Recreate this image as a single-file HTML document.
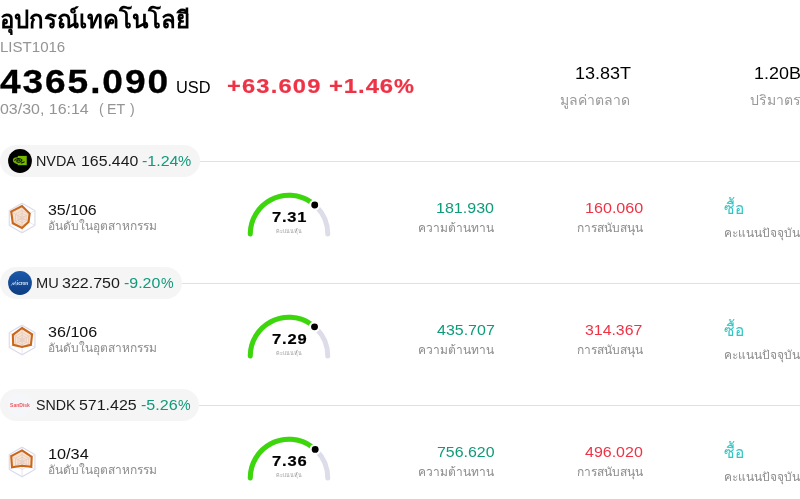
<!DOCTYPE html>
<html lang="th">
<head>
<meta charset="utf-8">
<title>LIST1016</title>
<style>
*{margin:0;padding:0;box-sizing:border-box}
html,body{width:800px;height:499px;overflow:hidden;background:#fff}
body{font-family:"Liberation Sans",sans-serif;color:#000;position:relative}
#wrap{position:absolute;left:0;top:0;width:800px;height:499px;will-change:transform}
.abs{position:absolute;white-space:nowrap;line-height:1}
.w{display:inline-block}
.title{left:0;top:4px;font-size:24px;font-weight:bold;line-height:32px}
.code{font-size:14px;color:#949494}

.price{font-size:33px;font-weight:bold;-webkit-text-stroke:0.3px #000}
.usd{font-size:16px}
.chg{font-size:20px;font-weight:bold;color:#ee3346;-webkit-text-stroke:0.2px #ee3346}
.time{font-size:14px;color:#949494}
.sv{font-size:16px}
.sl{font-size:14px;color:#999}
.row{position:absolute;left:0;width:800px;height:122px}
.line{position:absolute;left:0;top:16px;width:800px;height:1px;background:#e0e0ec}
.pill{position:absolute;left:0;top:0;height:32px;background:#f5f5f5;border-radius:16px}
.logo{position:absolute;left:8px;top:4px;width:24px;height:24px}
.ptxt{font-size:14px;color:#1a1a1a}
.g{color:#0f9a7c}
.r{color:#ee3346}
.radar{position:absolute;left:5.7px;top:56px;width:32px;height:34px}
.rank{font-size:14px;color:#111}
.lab{font-size:12px;color:#8c8c8c}
.gauge{position:absolute;left:239px;top:40px;width:100px;height:60px}
.score{font-size:14px;font-weight:bold;-webkit-text-stroke:0.2px #000}
.scorel{font-size:5.4px;color:#9c9c9c}
.val{font-size:14px}
.buy{font-size:16px;transform:scaleX(0.965);transform-origin:0 0;color:#2fc6c6}
</style>
</head>
<body>
<div id="wrap">
<div class="abs title">อุปกรณ์เทคโนโลยี</div>
<div class="abs code" style="left:-0.21px;top:40px;"><span class="w" style="transform:scaleX(1.0746);transform-origin:0 0">LIST1016</span></div>
<div class="abs price" style="left:0.44px;top:65px;letter-spacing:1.7px;"><span class="w" style="transform:scaleX(1.1238);transform-origin:0 0">4365.090</span></div>
<div class="abs usd" style="left:175.62px;top:80px;"><span class="w" style="transform:scaleX(1.0236);transform-origin:0 0">USD</span></div>
<div class="abs chg" style="left:227.06px;top:76px;letter-spacing:1.0px;"><span class="w" style="transform:scaleX(1.1832);transform-origin:0 0">+63.609</span></div>
<div class="abs chg" style="left:329.21px;top:76px;letter-spacing:0.8px;"><span class="w" style="transform:scaleX(1.1914);transform-origin:0 0">+1.46</span></div>
<div class="abs chg" style="left:394.19px;top:76px;"><span class="w" style="transform:scaleX(1.1194);transform-origin:0 0">%</span></div>
<div class="abs time" style="left:0.43px;top:102px;"><span class="w" style="transform:scaleX(1.1396);transform-origin:0 0">03/30, 16:14</span></div>
<div class="abs time" style="left:99px;top:102px;">(</div>
<div class="abs time" style="left:107.36px;top:102px;"><span class="w" style="transform:scaleX(1.0152);transform-origin:0 0">ET</span></div>
<div class="abs time" style="left:130px;top:102px;">)</div>
<div class="abs sv" style="left:574.69px;top:66px;"><span class="w" style="transform:scaleX(1.1252);transform-origin:0 0">13.83T</span></div>
<div class="abs sl" style="right:170px;top:93px;">มูลค่าตลาด</div>
<div class="abs sv" style="left:754.20px;top:66px;"><span class="w" style="transform:scaleX(1.1200);transform-origin:0 0">1.20B</span></div>
<div class="abs sl" style="left:750px;top:93px;">ปริมาตร</div>
<div class="row" style="top:145px">
<div class="line"></div>
<div class="pill" style="width:200px"></div><svg class="logo" viewBox="0 0 24 24"><circle cx="12" cy="12" r="11.9" fill="#000"/><path d="M9.8,6.9 H18.75 V16.2 H9.8 Z" fill="#74b800"/><ellipse cx="10.2" cy="11.8" rx="5.4" ry="3.5" transform="rotate(12 10.2 11.8)" fill="#6fae00"/><path d="M6.5,11.6 C8,9.2 12,8.8 14,11 C12.8,13.6 9.6,14 8.6,12 C9.6,10.4 11.6,10.6 12,11.8 M13,13.8 C14.6,14.2 15.6,13.4 16.6,12.6" fill="none" stroke="#0d1a00" stroke-width="1.05"/></svg>
<div class="abs ptxt" style="left:35.75px;top:9px;"><span class="w" style="transform:scaleX(1.0252);transform-origin:0 0">NVDA</span></div>
<div class="abs ptxt" style="left:80.63px;top:9px;"><span class="w" style="transform:scaleX(1.1325);transform-origin:0 0">165.440</span></div>
<div class="abs ptxt" style="left:141.89px;top:9px;color:#0f9a7c;"><span class="w" style="transform:scaleX(1.1433);transform-origin:0 0">-1.24</span></div>
<div class="abs ptxt" style="left:178.47px;top:9px;color:#0f9a7c;"><span class="w" style="transform:scaleX(1.0609);transform-origin:0 0">%</span></div><svg class="radar" viewBox="0 0 32 34"><polygon points="16.10,2.20 28.92,9.60 28.92,24.40 16.10,31.80 3.28,24.40 3.28,9.60" fill="#fff" stroke="#d9daea" stroke-width="1.1"/><polygon points="16.10,14.80 18.01,15.90 18.01,18.10 16.10,19.20 14.19,18.10 14.19,15.90" fill="none" stroke="#ecdcd6" stroke-width="0.8"/><polygon points="16.10,12.20 20.26,14.60 20.26,19.40 16.10,21.80 11.94,19.40 11.94,14.60" fill="none" stroke="#ecdcd6" stroke-width="0.8"/><polygon points="16.10,9.40 22.68,13.20 22.68,20.80 16.10,24.60 9.52,20.80 9.52,13.20" fill="none" stroke="#ecdcd6" stroke-width="0.8"/><line x1="16.10" y1="2.20" x2="16.10" y2="31.80" stroke="#e2e3f0" stroke-width="0.9"/><line x1="28.92" y1="9.60" x2="3.28" y2="24.40" stroke="#e2e3f0" stroke-width="0.9"/><line x1="28.92" y1="24.40" x2="3.28" y2="9.60" stroke="#e2e3f0" stroke-width="0.9"/><polygon points="16.00,5.00 23.70,12.60 22.50,21.00 16.00,27.00 6.80,22.20 5.20,10.60" fill="#e2782a" fill-opacity="0.2" stroke="#cb671a" stroke-width="2.1" stroke-linejoin="miter"/></svg>
<div class="abs rank" style="left:48.18px;top:58.4px;"><span class="w" style="transform:scaleX(1.1377);transform-origin:0 0">35/106</span></div>
<div class="abs lab" style="left:48px;top:74.5px;">อันดับในอุตสาหกรรม</div><svg class="gauge" viewBox="0 0 100 60"><path d="M11.25,49.0 A38.75,38.75 0 0 1 88.75,49.0" fill="none" stroke="#dddde9" stroke-width="5" stroke-linecap="round"/><path d="M11.25,49.0 A38.75,38.75 0 0 1 71.99,17.10" fill="none" stroke="#3cd70b" stroke-width="5" stroke-linecap="round"/><path d="M71.99,17.10 A38.75,38.75 0 0 1 75.72,20.01" fill="none" stroke="#3cd70b" stroke-width="5"/><circle cx="75.72" cy="20.01" r="5.6" fill="#fff"/><circle cx="75.72" cy="20.01" r="3.45" fill="#000"/></svg>
<div class="abs score" style="left:271.52px;top:65px;letter-spacing:0.7px;"><span class="w" style="transform:scaleX(1.1753);transform-origin:0 0">7.31</span></div>
<div class="abs scorel" style="left:239px;top:83.5px;width:100px;text-align:center;">คะแนนหุ้น</div>
<div class="abs val" style="left:436.46px;top:56.4px;color:#0f9a7c;"><span class="w" style="transform:scaleX(1.1458);transform-origin:0 0">181.930</span></div>
<div class="abs lab" style="right:306px;top:77.3px;">ความต้านทาน</div>
<div class="abs val" style="left:584.71px;top:56.4px;color:#ee3346;"><span class="w" style="transform:scaleX(1.1509);transform-origin:0 0">160.060</span></div>
<div class="abs lab" style="right:157px;top:77.3px;">การสนับสนุน</div>
<div class="abs buy" style="left:724px;top:56px;">ซื้อ</div>
<div class="abs lab" style="left:724px;top:82.3px;">คะแนนปัจจุบัน</div></div>
<div class="row" style="top:267px">
<div class="line"></div>
<div class="pill" style="width:182px"></div><svg class="logo" viewBox="0 0 24 24"><defs><linearGradient id="mg" x1="0" y1="0" x2="0" y2="1"><stop offset="0" stop-color="#1c5aaa"/><stop offset="1" stop-color="#0e3c82"/></linearGradient></defs><circle cx="12" cy="12" r="11.9" fill="url(#mg)"/><path d="M3.2,14.6 L5.2,11.6 L5.6,14 L7.6,10.6 L8.2,14.3" fill="none" stroke="#c9d6ea" stroke-width="0.9" opacity="0.8"/><circle cx="9.4" cy="9.4" r="0.5" fill="#dfe7f3" opacity="0.8"/><text x="8.9" y="14.3" font-family="Liberation Sans, sans-serif" font-size="5.7" font-weight="bold" fill="#e6edf7" textLength="11.3" lengthAdjust="spacingAndGlyphs">ıcron</text></svg>
<div class="abs ptxt" style="left:35.73px;top:9px;"><span class="w" style="transform:scaleX(1.0436);transform-origin:0 0">MU</span></div>
<div class="abs ptxt" style="left:62.18px;top:9px;"><span class="w" style="transform:scaleX(1.1444);transform-origin:0 0">322.750</span></div>
<div class="abs ptxt" style="left:124.39px;top:9px;color:#0f9a7c;"><span class="w" style="transform:scaleX(1.1382);transform-origin:0 0">-9.20</span></div>
<div class="abs ptxt" style="left:160.74px;top:9px;color:#0f9a7c;"><span class="w" style="transform:scaleX(1.0130);transform-origin:0 0">%</span></div><svg class="radar" viewBox="0 0 32 34"><polygon points="16.10,2.20 28.92,9.60 28.92,24.40 16.10,31.80 3.28,24.40 3.28,9.60" fill="#fff" stroke="#d9daea" stroke-width="1.1"/><polygon points="16.10,14.80 18.01,15.90 18.01,18.10 16.10,19.20 14.19,18.10 14.19,15.90" fill="none" stroke="#ecdcd6" stroke-width="0.8"/><polygon points="16.10,12.20 20.26,14.60 20.26,19.40 16.10,21.80 11.94,19.40 11.94,14.60" fill="none" stroke="#ecdcd6" stroke-width="0.8"/><polygon points="16.10,9.40 22.68,13.20 22.68,20.80 16.10,24.60 9.52,20.80 9.52,13.20" fill="none" stroke="#ecdcd6" stroke-width="0.8"/><line x1="16.10" y1="2.20" x2="16.10" y2="31.80" stroke="#e2e3f0" stroke-width="0.9"/><line x1="28.92" y1="9.60" x2="3.28" y2="24.40" stroke="#e2e3f0" stroke-width="0.9"/><line x1="28.92" y1="24.40" x2="3.28" y2="9.60" stroke="#e2e3f0" stroke-width="0.9"/><polygon points="16.00,5.00 26.10,11.40 24.90,21.80 16.00,23.90 7.20,21.80 6.80,11.80" fill="#e2782a" fill-opacity="0.2" stroke="#cb671a" stroke-width="2.1" stroke-linejoin="miter"/></svg>
<div class="abs rank" style="left:47.93px;top:58.4px;"><span class="w" style="transform:scaleX(1.1497);transform-origin:0 0">36/106</span></div>
<div class="abs lab" style="left:48px;top:74.5px;">อันดับในอุตสาหกรรม</div><svg class="gauge" viewBox="0 0 100 60"><path d="M11.25,49.0 A38.75,38.75 0 0 1 88.75,49.0" fill="none" stroke="#dddde9" stroke-width="5" stroke-linecap="round"/><path d="M11.25,49.0 A38.75,38.75 0 0 1 71.79,16.96" fill="none" stroke="#3cd70b" stroke-width="5" stroke-linecap="round"/><path d="M71.79,16.96 A38.75,38.75 0 0 1 75.53,19.85" fill="none" stroke="#3cd70b" stroke-width="5"/><circle cx="75.53" cy="19.85" r="5.6" fill="#fff"/><circle cx="75.53" cy="19.85" r="3.45" fill="#000"/></svg>
<div class="abs score" style="left:271.51px;top:65px;letter-spacing:0.7px;"><span class="w" style="transform:scaleX(1.1805);transform-origin:0 0">7.29</span></div>
<div class="abs scorel" style="left:239px;top:83.5px;width:100px;text-align:center;">คะแนนหุ้น</div>
<div class="abs val" style="left:436.82px;top:56.4px;color:#0f9a7c;"><span class="w" style="transform:scaleX(1.1414);transform-origin:0 0">435.707</span></div>
<div class="abs lab" style="right:306px;top:77.3px;">ความต้านทาน</div>
<div class="abs val" style="left:585.43px;top:56.4px;color:#ee3346;"><span class="w" style="transform:scaleX(1.1322);transform-origin:0 0">314.367</span></div>
<div class="abs lab" style="right:157px;top:77.3px;">การสนับสนุน</div>
<div class="abs buy" style="left:724px;top:56px;">ซื้อ</div>
<div class="abs lab" style="left:724px;top:82.3px;">คะแนนปัจจุบัน</div></div>
<div class="row" style="top:389px">
<div class="line"></div>
<div class="pill" style="width:199px"></div><svg class="logo" viewBox="0 0 24 24"><circle cx="12" cy="12" r="11.9" fill="#f4f6f9"/><text x="2.1" y="14.0" font-family="Liberation Sans, sans-serif" font-size="5.4" font-weight="bold" fill="#ee3a3f" fill-opacity="0.85" textLength="19.8" lengthAdjust="spacingAndGlyphs">SanDisk</text></svg>
<div class="abs ptxt" style="left:35.86px;top:9px;"><span class="w" style="transform:scaleX(1.0164);transform-origin:0 0">SNDK</span></div>
<div class="abs ptxt" style="left:79.29px;top:9px;"><span class="w" style="transform:scaleX(1.1392);transform-origin:0 0">571.425</span></div>
<div class="abs ptxt" style="left:141.18px;top:9px;color:#0f9a7c;"><span class="w" style="transform:scaleX(1.1494);transform-origin:0 0">-5.26</span></div>
<div class="abs ptxt" style="left:177.74px;top:9px;color:#0f9a7c;"><span class="w" style="transform:scaleX(1.0130);transform-origin:0 0">%</span></div><svg class="radar" viewBox="0 0 32 34"><polygon points="16.10,2.20 28.92,9.60 28.92,24.40 16.10,31.80 3.28,24.40 3.28,9.60" fill="#fff" stroke="#d9daea" stroke-width="1.1"/><polygon points="16.10,14.80 18.01,15.90 18.01,18.10 16.10,19.20 14.19,18.10 14.19,15.90" fill="none" stroke="#ecdcd6" stroke-width="0.8"/><polygon points="16.10,12.20 20.26,14.60 20.26,19.40 16.10,21.80 11.94,19.40 11.94,14.60" fill="none" stroke="#ecdcd6" stroke-width="0.8"/><polygon points="16.10,9.40 22.68,13.20 22.68,20.80 16.10,24.60 9.52,20.80 9.52,13.20" fill="none" stroke="#ecdcd6" stroke-width="0.8"/><line x1="16.10" y1="2.20" x2="16.10" y2="31.80" stroke="#e2e3f0" stroke-width="0.9"/><line x1="28.92" y1="9.60" x2="3.28" y2="24.40" stroke="#e2e3f0" stroke-width="0.9"/><line x1="28.92" y1="24.40" x2="3.28" y2="9.60" stroke="#e2e3f0" stroke-width="0.9"/><polygon points="16.00,5.40 25.70,11.80 25.30,21.80 16.00,20.70 6.00,22.20 5.20,11.00" fill="#e2782a" fill-opacity="0.2" stroke="#cb671a" stroke-width="2.1" stroke-linejoin="miter"/></svg>
<div class="abs rank" style="left:47.69px;top:58.4px;"><span class="w" style="transform:scaleX(1.1612);transform-origin:0 0">10/34</span></div>
<div class="abs lab" style="left:48px;top:74.5px;">อันดับในอุตสาหกรรม</div><svg class="gauge" viewBox="0 0 100 60"><path d="M11.25,49.0 A38.75,38.75 0 0 1 88.75,49.0" fill="none" stroke="#dddde9" stroke-width="5" stroke-linecap="round"/><path d="M11.25,49.0 A38.75,38.75 0 0 1 72.49,17.45" fill="none" stroke="#3cd70b" stroke-width="5" stroke-linecap="round"/><path d="M72.49,17.45 A38.75,38.75 0 0 1 76.17,20.42" fill="none" stroke="#3cd70b" stroke-width="5"/><circle cx="76.17" cy="20.42" r="5.6" fill="#fff"/><circle cx="76.17" cy="20.42" r="3.45" fill="#000"/></svg>
<div class="abs score" style="left:271.51px;top:65px;letter-spacing:0.7px;"><span class="w" style="transform:scaleX(1.1805);transform-origin:0 0">7.36</span></div>
<div class="abs scorel" style="left:239px;top:83.5px;width:100px;text-align:center;">คะแนนหุ้น</div>
<div class="abs val" style="left:436.90px;top:56.4px;color:#0f9a7c;"><span class="w" style="transform:scaleX(1.1371);transform-origin:0 0">756.620</span></div>
<div class="abs lab" style="right:306px;top:77.3px;">ความต้านทาน</div>
<div class="abs val" style="left:585.17px;top:56.4px;color:#ee3346;"><span class="w" style="transform:scaleX(1.1416);transform-origin:0 0">496.020</span></div>
<div class="abs lab" style="right:157px;top:77.3px;">การสนับสนุน</div>
<div class="abs buy" style="left:724px;top:56px;">ซื้อ</div>
<div class="abs lab" style="left:724px;top:82.3px;">คะแนนปัจจุบัน</div></div>
</div>
</body>
</html>
